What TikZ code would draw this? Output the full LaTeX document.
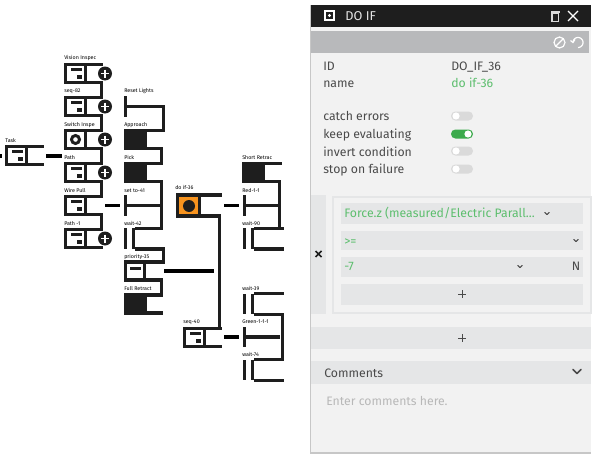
\documentclass[tikz,border=0pt]{standalone}
\usepackage{fontspec}
\setmainfont{Fira Sans}
\definecolor{ink}{HTML}{1E1E1E}
\definecolor{panelbg}{HTML}{F2F2F2}
\definecolor{rowbg}{HTML}{E5E6E7}
\definecolor{barbg}{HTML}{B8B9BB}
\definecolor{okgreen}{HTML}{5DBE6E}
\definecolor{toggleon}{HTML}{3CAA4C}
\definecolor{toggleoff}{HTML}{DADADA}
\definecolor{paneltext}{HTML}{4A4A4A}
\definecolor{blockorange}{HTML}{F7931E}
\tikzset{
  x=0.75pt,y=-0.75pt,
  wire/.style={line width=2.5pt,draw=ink,line join=miter},
  link/.style={line width=2.4pt,draw=black},
  blockbox/.style={draw=ink,line width=2.5pt,fill=white,minimum width=15pt,minimum height=13.7pt,inner sep=0pt,outer sep=0pt},
  blackbox/.style={blockbox,fill=ink},
  orangebox/.style={blockbox,fill=blockorange,minimum width=16.5pt,minimum height=15.7pt},
  barnode/.style={fill=ink,draw=none,minimum width=2.5pt,minimum height=15.5pt,inner sep=0pt,outer sep=0pt},
  blocklabel/.style={anchor=base west,inner sep=0pt,text=black,font=\fontsize{4pt}{5pt}\selectfont},
  paneltxt/.style={anchor=base west,inner sep=0pt,text=paneltext,font=\fontsize{9.2pt}{11pt}\selectfont},
  greentxt/.style={paneltxt,text=okgreen},
  rowrect/.style={fill=rowbg,draw=none},
  thinicon/.style={draw=white,line width=0.9pt},
  chev/.style={draw=paneltext,line cap=round,line join=round},
  plusmark/.style={draw=paneltext,line width=0.55pt},
}
\newcommand{\seqblock}[3]{%
  \node[blockbox] (#1) at (#2+11.5,#3+10.5) {};
  \fill[ink] (#2+7,#3+5) rectangle (#2+18,#3+8);
  \fill[ink] (#2+12.5,#3+12) rectangle (#2+18,#3+15.5);
}
\newcommand{\plusbadge}[2]{%
  \fill[ink] (#1,#2) circle (7);
  \draw[white,line width=1.2pt] (#1-4,#2) -- (#1+4,#2) (#1,#2-4) -- (#1,#2+4);
}
\newcommand{\chevron}[4]{\draw[chev,line width=#3] (#1-#4,#2-#4/2) -- (#1,#2+#4/2) -- (#1+#4,#2-#4/2);}
\newcommand{\toggleoff}[2]{%
  \fill[toggleoff,rounded corners=3.3pt] (#1,#2-4.5) rectangle (#1+22,#2+4.5);
  \fill[white] (#1+5,#2) circle (3.6);
}
\begin{document}
\begin{tikzpicture}
\useasboundingbox (0,0) rectangle (600,464);
\fill[white] (0,0) rectangle (600,464);

% ---- left column
\seqblock{task}{5}{145}
\seqblock{vision}{64}{63}
\seqblock{seqa}{64}{96}
\node[blockbox] (switch) at (75.5,139.5) {};
\draw[ink,line width=2.2pt] (75.5,139.5) circle (4);
\seqblock{path}{64}{162}
\seqblock{wire}{64}{195}
\seqblock{patha}{64}{228}
\draw[wire] (task.north east) -- ++(17,0);
\draw[wire] (task.south east) -- ++(17,0);
\draw[wire] (vision.north east) -- ++(17,0);
\draw[wire] (vision.south east) -- ++(16,0) |- (seqa.north east);
\draw[wire] (seqa.south east) -- ++(16,0) |- (switch.north east);
\draw[wire] (switch.south east) -- ++(16,0) |- (path.north east);
\draw[wire] (path.south east) -- ++(16,0) |- (wire.north east);
\draw[wire] (wire.south east) -- ++(16,0) |- (patha.north east);
\draw[wire] (patha.south east) -- ++(17,0);
\plusbadge{105}{73.5}\plusbadge{105}{106.5}\plusbadge{105}{139.5}\plusbadge{105}{172.5}\plusbadge{105}{238.5}

% ---- second column
\node[barnode] (reset) at (125.5,106.5) {};
\node[blackbox] (approach) at (135.5,139.5) {};
\node[blackbox] (pick) at (135.5,172.5) {};
\node[barnode] (cat) at (125.5,205.5) {};
\node[barnode] (waita) at (125.5,238.5) {};
\node[barnode] (waitb) at (133.5,238.5) {};
\node[blockbox,minimum width=14.5pt] (priority) at (135,271) {};
\fill[ink] (130,266.5) rectangle (141,270);
\node[blackbox] (full) at (135.5,304) {};
\draw[wire] (reset.east) -- ++(36,0) |- (approach.north east);
\draw[wire] (approach.south east) -- ++(16,0) |- (pick.north east);
\draw[wire] (pick.south east) -- ++(16,0) |- (waitb.north east);
\draw[wire] (cat.east) -- (162,205.5);
\draw[wire] (waitb.south east) -- ++(28,0) |- (priority.north east);
\draw[wire] (priority.south east) -- ++(17,0) |- (full.north east);
\draw[wire] (full.south east) -- ++(17,0);

% ---- do if and seq-40
\node[orangebox] (doif) at (188.5,205.5) {};
\fill[ink] (189,206) circle (6);
\seqblock{seqb}{183}{327}
\draw[wire] (doif.north east) -- ++(22,0);
\draw[wire] (doif.south east) -- ++(20,0) |- (seqb.north east);
\draw[wire] (seqb.south east) -- ++(17,0);
\draw[wire] (seqb.north east) -- ++(17,0);

% ---- third column
\node[blackbox] (short) at (253.5,172.5) {};
\node[barnode] (red) at (244.5,205.5) {};
\node[barnode] (waitc) at (244.5,238.5) {};
\node[barnode] (waitd) at (252.5,238.5) {};
\node[barnode] (waite) at (244.5,304) {};
\node[barnode] (waitf) at (252.5,304) {};
\node[barnode] (green) at (244.5,337) {};
\node[barnode] (waitg) at (244.5,370) {};
\node[barnode] (waith) at (252.5,370) {};
\draw[wire] (short.north east) -- ++(18,0);
\draw[wire] (short.south east) -- ++(16,0) |- (waitd.north east);
\draw[wire] (red.east) -- (280,205.5);
\draw[wire] (waitd.north east) -- ++(30,0);
\draw[wire] (waitd.south east) -- ++(30,0);
\draw[wire] (waitf.north east) -- ++(30,0);
\draw[wire] (waitf.south east) -- ++(28,0) |- (waith.north east);
\draw[wire] (green.east) -- (280,337);
\draw[wire] (waith.north east) -- ++(30,0);
\draw[wire] (waith.south east) -- ++(30,0);

% ---- short links
\coordinate (la) at (0,156);\coordinate (lb) at (2,156);
\draw[link] (la) -- (lb);
\coordinate (t1) at (46,156);\coordinate (t2) at (62,156);
\draw[link] (t1) -- (t2);
\coordinate (w1) at (105,205.5);\coordinate (w2) at (120,205.5);
\draw[link] (w1) -- (w2);
\coordinate (p1) at (164,271);\coordinate (p2) at (214,271);
\draw[link] (p1) -- (p2);
\coordinate (d1) at (224,205.5);\coordinate (d2) at (239,205.5);
\draw[link] (d1) -- (d2);
\coordinate (s1) at (224,337);\coordinate (s2) at (239,337);
\draw[link] (s1) -- (s2);

% ---- block labels
\node[blocklabel] (l1) at (64,60) {Vision Inspec};
\node[blocklabel] (l2) at (64,92) {seq-82};
\node[blocklabel] (l3) at (64,126) {Switch Inspe};
\node[blocklabel] (l4) at (64,159) {Path};
\node[blocklabel] (l5) at (64,192) {Wire Pull};
\node[blocklabel] (l6) at (64,225) {Path -1};
\node[blocklabel] (l7) at (5,142) {Task};
\node[blocklabel] (l8) at (124,92) {Reset Lights};
\node[blocklabel] (l9) at (124,126) {Approach};
\node[blocklabel] (l10) at (124,159) {Pick};
\node[blocklabel] (l11) at (124,192) {set to-41};
\node[blocklabel] (l12) at (124,225) {wait-42};
\node[blocklabel] (l13) at (124,258) {priority-35};
\node[blocklabel] (l14) at (124,290) {Full Retract};
\node[blocklabel] (l15) at (175,189) {do if-36};
\node[blocklabel] (l16) at (183,323) {seq-40};
\node[blocklabel] (l17) at (242,159) {Short Retrac};
\node[blocklabel] (l18) at (242,192) {Red-1-1};
\node[blocklabel] (l19) at (242,225) {wait-90};
\node[blocklabel] (l20) at (242,290) {wait-39};
\node[blocklabel] (l21) at (242,323) {Green-1-1-1};
\node[blocklabel] (l22) at (242,356) {wait-74};

% ---- panel
\fill[black!22] (309.5,5) rectangle (591,453.5);
\fill[panelbg] (311,5) rectangle (591,452);
\fill[ink] (311,5) rectangle (591,27);
\fill[barbg] (311,31) rectangle (589,53);
% header icons and title
\draw[thinicon] (325,11) rectangle (334,20);
\fill[white] (329.5,15.5) circle (1.7);
\node[anchor=base west,inner sep=0pt,text=white!90!black,font=\fontsize{9.6pt}{12pt}\selectfont] (title) at (345,21) {DO IF};
\draw[white!85!black,line width=0.8pt] (552,13) rectangle (558.5,21.5);
\fill[white!85!black] (550.5,10.5) rectangle (560,12.5);
\draw[white,line width=0.9pt] (568,11) -- (578,21) (578,11) -- (568,21);
\draw[white,line width=0.9pt] (559.5,42.5) circle (5.5);
\draw[white,line width=0.9pt] (555.6,46.4) -- (563.4,38.6);
\draw[white,line width=0.9pt] plot[smooth,domain=-90:170,samples=30] ({578+5*cos(\x)},{42.5-5*sin(\x)});
\draw[white,line width=0.9pt] (570.5,40.5) -- (573,42.5) -- (575,39.5);
% fields
\node[paneltxt] (idk) at (323,70) {ID};
\node[paneltxt] (idv) at (451,70) {DO\_IF\_36};
\node[paneltxt] (nmk) at (323,87.5) {name};
\node[greentxt] (nmv) at (451,87.5) {do if-36};
\node[paneltxt] (o1) at (323,120.5) {catch errors};
\node[paneltxt] (o2) at (323,138) {keep evaluating};
\node[paneltxt] (o3) at (323,156) {invert condition};
\node[paneltxt] (o4) at (323,173.5) {stop on failure};
\toggleoff{451}{116}
\fill[toggleon,rounded corners=3.3pt] (451,129.5) rectangle (473,138.5);
\fill[white] (468,134) circle (3.6);
\toggleoff{451}{151}
\toggleoff{451}{169}
% condition
\fill[rowbg] (311,195) rectangle (326,314);
\draw[ink,line width=1.2pt] (315.5,251) -- (321.5,257) (321.5,251) -- (315.5,257);
\draw[rowbg,line width=1.5pt] (333,196.5) rectangle (591,313);
\fill[rowrect] (341,203) rectangle (583,224);
\fill[rowrect] (341,231) rectangle (583,250);
\fill[rowrect] (341,257) rectangle (583,277);
\fill[rowrect] (341,283.5) rectangle (583,305);
\node[greentxt] (force) at (344,217.5) {Force.z (measured/Electric Parall...};
\node[greentxt] (op) at (344,245) {>=};
\node[greentxt] (num) at (344,270.5) {-7};
\node[paneltxt,anchor=base] (unit) at (576,270.5) {N};
\chevron{547}{213.5}{0.8pt}{2.2}
\chevron{576}{240.5}{0.8pt}{2.2}
\chevron{520}{266.5}{0.8pt}{2.2}
\draw[plusmark] (458,294) -- (466,294) (462,290) -- (462,298);
\fill[rowrect] (311,327) rectangle (591,349);
\draw[plusmark] (458,338) -- (466,338) (462,334) -- (462,342);
\fill[rowrect] (311,361) rectangle (591,384);
\node[paneltxt] (cm) at (324,377) {Comments};
\chevron{577}{371.5}{1.3pt}{4}
\node[paneltxt,text=black!28] (enter) at (326,405) {Enter comments here.};
\end{tikzpicture}
\end{document}
